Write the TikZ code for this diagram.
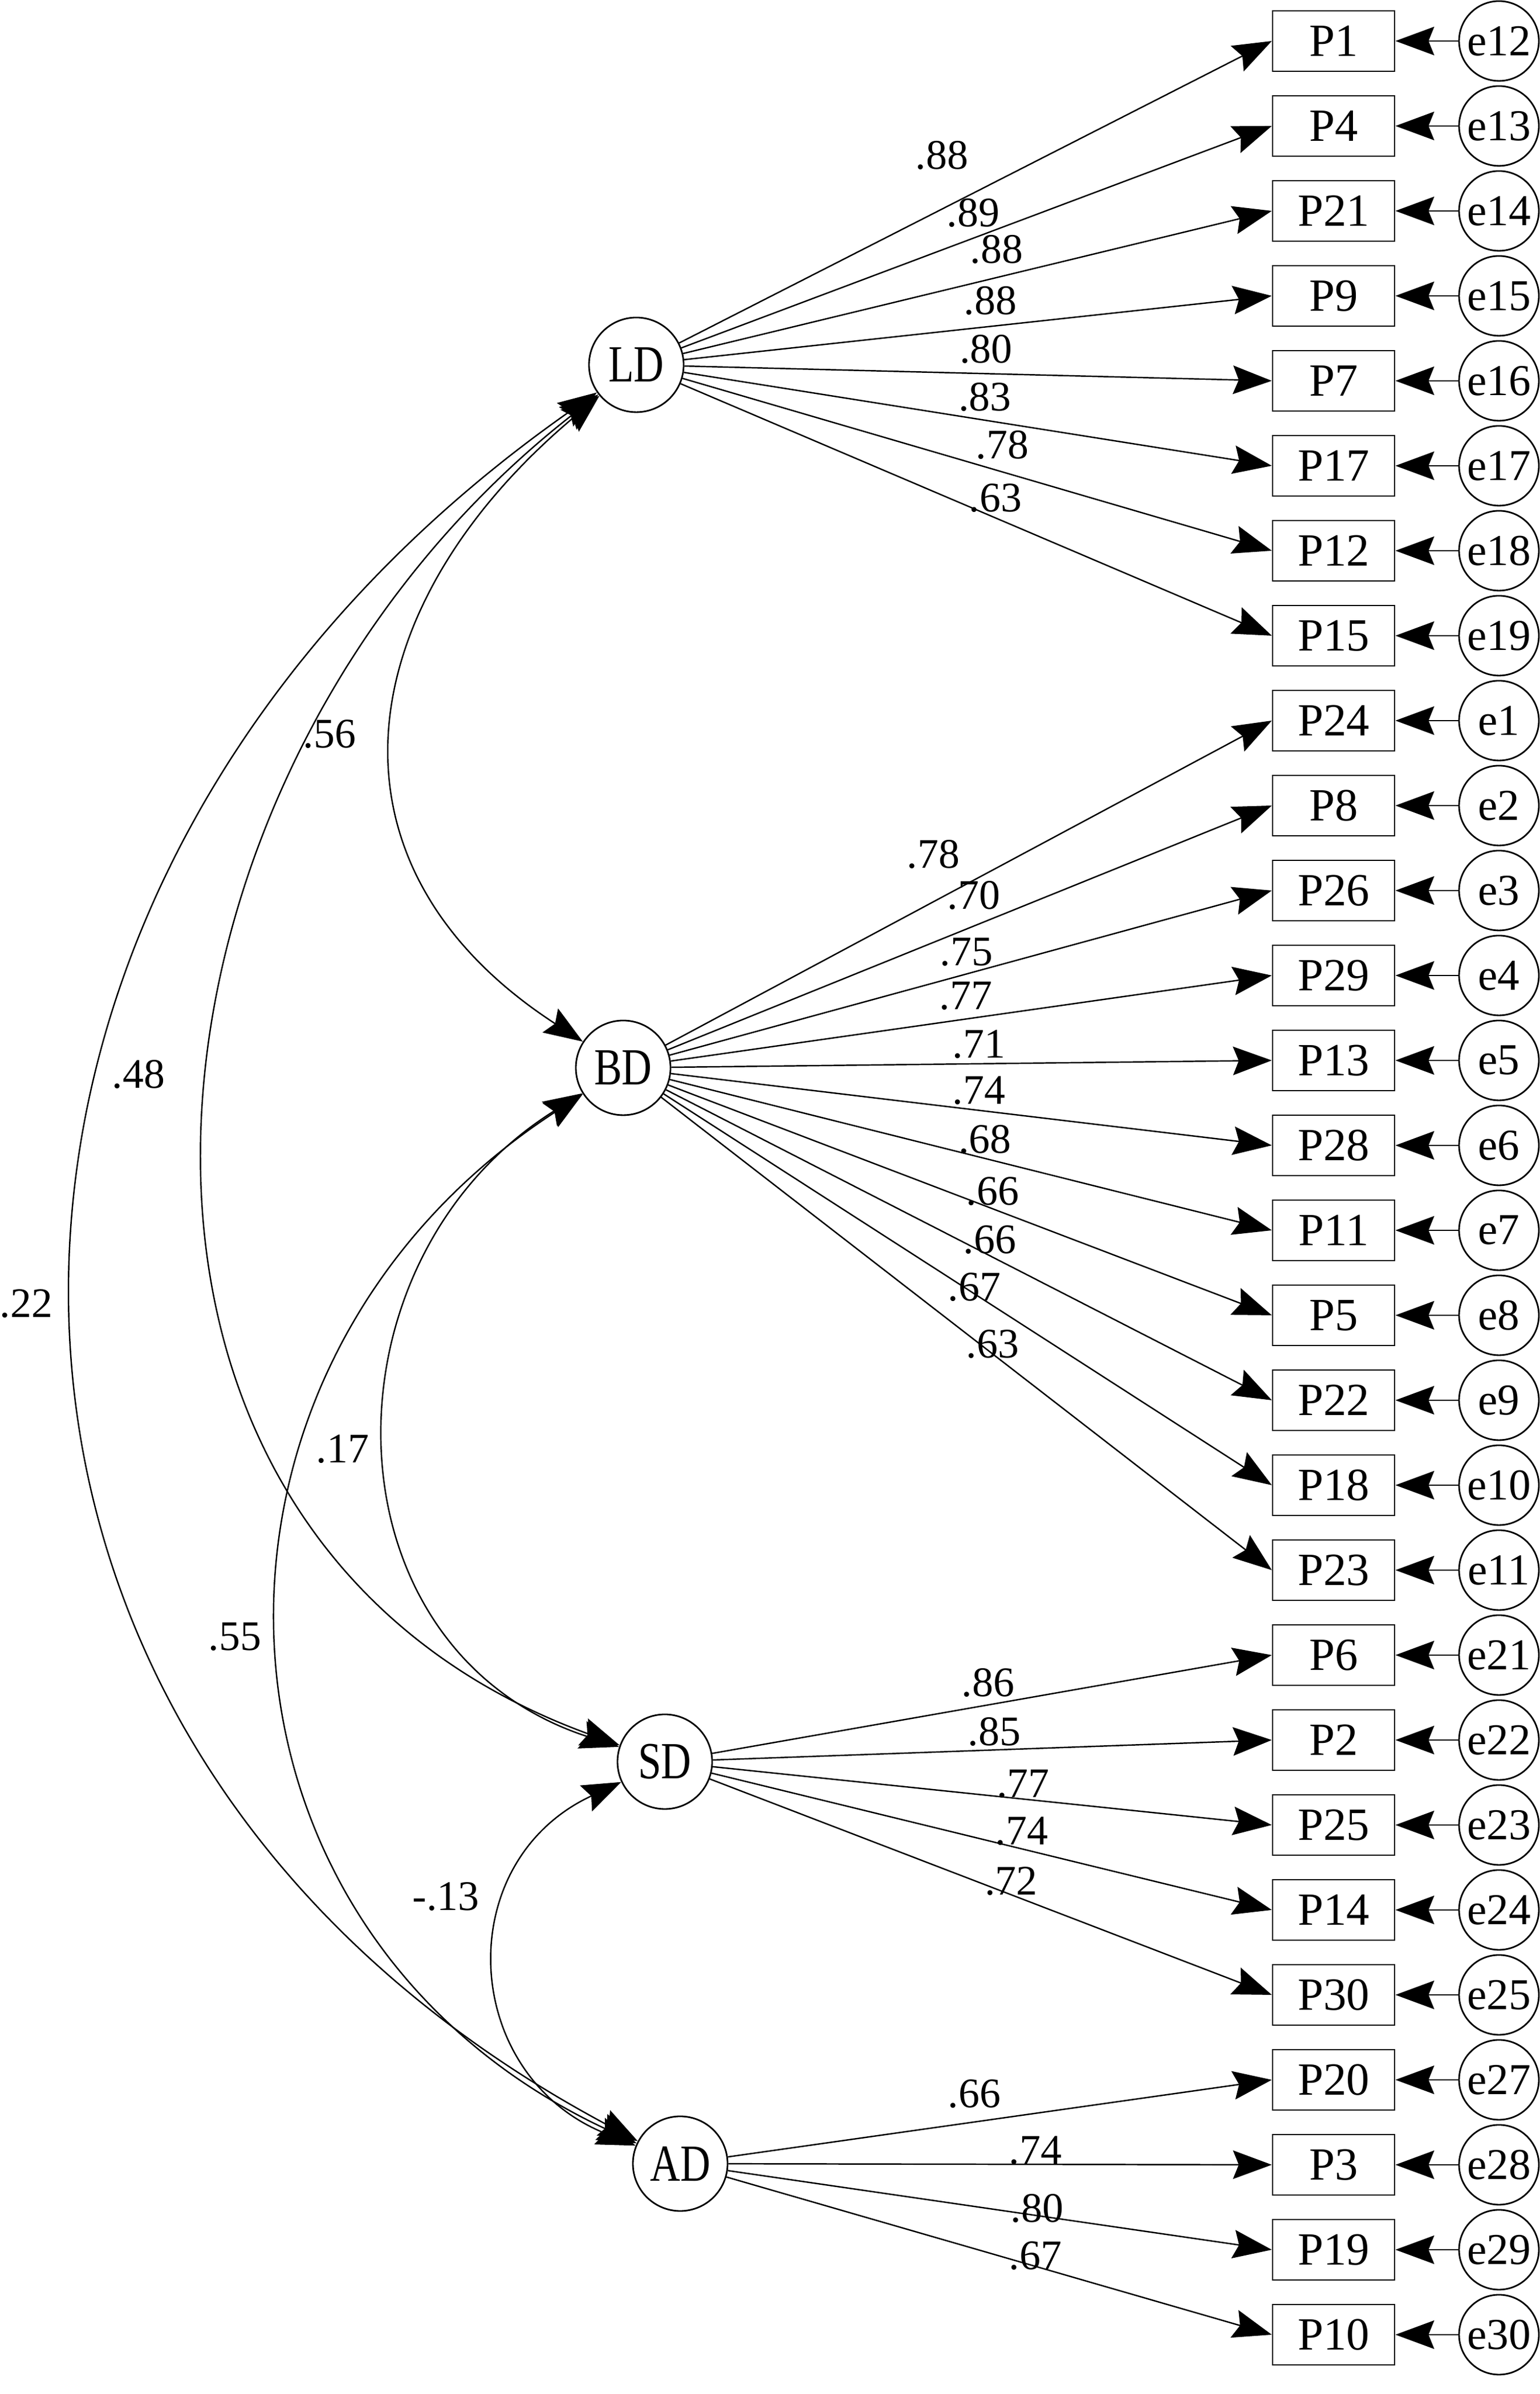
\documentclass[tikz,border=0pt]{standalone}
\usepackage{fontspec}
\setmainfont{Liberation Serif}
\newfontfamily\latfont[FakeStretch=0.8]{Liberation Serif}
\usetikzlibrary{arrows.meta}
\tikzstyle{latent} = [circle,draw,line width=0.4pt,inner sep=0pt,minimum size=0.83cm,font=\latfont\fontsize{13}{13}\selectfont]
\tikzstyle{obs} = [rectangle,draw,line width=0.4pt,inner sep=0pt,minimum width=1.07cm,minimum height=0.53cm,font=\fontsize{11.5}{11.5}\selectfont]
\tikzstyle{err} = [circle,draw,line width=0.4pt,inner sep=0pt,minimum size=0.70cm,font=\fontsize{11}{11}\selectfont]
\tikzstyle{coef} = [inner sep=0pt,font=\fontsize{10.5}{10.5}\selectfont]
\tikzstyle{arr} = [->,line width=0.35pt]
\tikzstyle{cov} = [<->,line width=0.35pt]
\tikzset{>={Stealth[length=3.4mm,width=2.5mm,inset=0.5mm]}}

\begin{document}
\begin{tikzpicture}
    \useasboundingbox (0,0) rectangle (13.5,20.995);

    % factors
    \node [latent] (LD) at (5.58,17.795) {LD};
    \node [latent] (BD) at (5.465,11.63) {BD};
    \node [latent] (SD) at (5.83,5.545) {SD};
    \node [latent] (AD) at (5.965,2.02) {AD};

    % items with their errors
    \foreach \p/\e [count=\i from 0] in {P1/e12,P4/e13,P21/e14,P9/e15,P7/e16,P17/e17,P12/e18,P15/e19,
        P24/e1,P8/e2,P26/e3,P29/e4,P13/e5,P28/e6,P11/e7,P5/e8,P22/e9,P18/e10,P23/e11,
        P6/e21,P2/e22,P25/e23,P14/e24,P30/e25,P20/e27,P3/e28,P19/e29,P10/e30}
    {
        \node [obs] (\p) at (11.695,20.635-0.745*\i) {\p};
        \node [err] (\e) at (13.145,20.635-0.745*\i) {\e};
        \draw [arr] (\e) -- (\p);
    }

    % loadings
    \foreach \p in {P1,P4,P21,P9,P7,P17,P12,P15} \draw [arr] (LD) -- (\p.west);
    \foreach \p in {P24,P8,P26,P29,P13,P28,P11,P5,P22,P18,P23} \draw [arr] (BD) -- (\p.west);
    \foreach \p in {P6,P2,P25,P14,P30} \draw [arr] (SD) -- (\p.west);
    \foreach \p in {P20,P3,P19,P10} \draw [arr] (AD) -- (\p.west);

    % covariances
    \draw [cov] (LD) to [out=220,in=147,looseness=1.289] (BD);
    \draw [cov] (LD) to [out=218,in=160,looseness=1.171] (SD);
    \draw [cov] (LD) to [out=215,in=152,looseness=1.24] (AD);
    \draw [cov] (BD) to [out=212,in=162,looseness=1.23] (SD);
    \draw [cov] (BD) to [out=213,in=155,looseness=1.222] (AD);
    \draw [cov] (SD) to [out=205,in=158,looseness=1.329] (AD);

    \node [coef] (rLDBD) at (2.89,14.555) {.56};
    \node [coef] (rLDSD) at (1.215,11.57) {.48};
    \node [coef] (rLDAD) at (0.23,9.56) {.22};
    \node [coef] (rBDSD) at (3.005,8.285) {.17};
    \node [coef] (rBDAD) at (2.06,6.64) {.55};
    \node [coef] (rSDAD) at (3.91,4.36) {-.13};

    % loading values
    \node [coef] (cP1) at (8.26,19.63) {.88};
    \node [coef] (cP4) at (8.535,19.125) {.89};
    \node [coef] (cP21) at (8.74,18.805) {.88};
    \node [coef] (cP9) at (8.685,18.355) {.88};
    \node [coef] (cP7) at (8.648,17.93) {.80};
    \node [coef] (cP17) at (8.636,17.51) {.83};
    \node [coef] (cP12) at (8.79,17.09) {.78};
    \node [coef] (cP15) at (8.73,16.625) {.63};

    \node [coef] (cP24) at (8.185,13.50) {.78};
    \node [coef] (cP8) at (8.54,13.14) {.70};
    \node [coef] (cP26) at (8.475,12.645) {.75};
    \node [coef] (cP29) at (8.47,12.26) {.77};
    \node [coef] (cP13) at (8.585,11.834) {.71};
    \node [coef] (cP28) at (8.585,11.432) {.74};
    \node [coef] (cP11) at (8.638,11.004) {.68};
    \node [coef] (cP5) at (8.705,10.548) {.66};
    \node [coef] (cP22) at (8.679,10.12) {.66};
    \node [coef] (cP18) at (8.545,9.705) {.67};
    \node [coef] (cP23) at (8.705,9.209) {.63};

    \node [coef] (cP6) at (8.665,6.236) {.86};
    \node [coef] (cP2) at (8.719,5.807) {.85};
    \node [coef] (cP25) at (8.973,5.352) {.77};
    \node [coef] (cP14) at (8.96,4.937) {.74};
    \node [coef] (cP30) at (8.866,4.495) {.72};

    \node [coef] (cP20) at (8.545,2.633) {.66};
    \node [coef] (cP3) at (9.08,2.138) {.74};
    \node [coef] (cP19) at (9.094,1.629) {.80};
    \node [coef] (cP10) at (9.08,1.213) {.67};
\end{tikzpicture}
\end{document}
